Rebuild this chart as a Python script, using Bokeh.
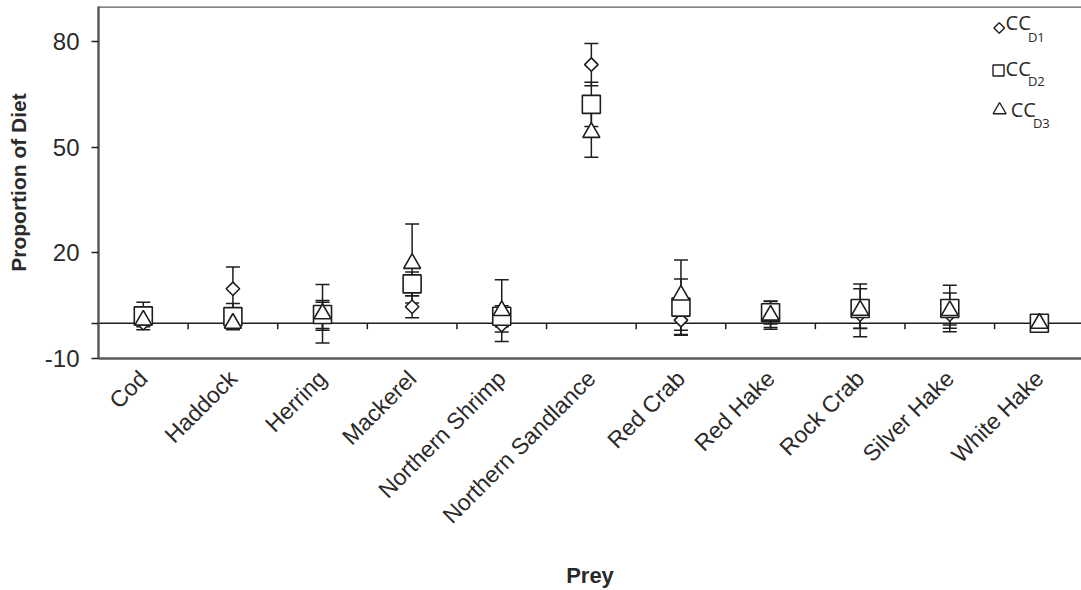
from math import pi

from bokeh.plotting import figure
from bokeh.models import (Range1d, FixedTicker, Whisker, TeeHead,
                          ColumnDataSource, Span)
from bokeh.core.properties import value
from bokeh.embed import file_html
from bokeh.resources import INLINE

# Prey categories and diet proportions (%) with error estimates per diet class
prey = ["Cod", "Haddock", "Herring", "Mackerel", "Northern Shrimp",
        "Northern Sandlance", "Red Crab", "Red Hake", "Rock Crab",
        "Silver Hake", "White Hake"]
cc_d1 = [0.0, 9.8, 2.0, 4.7, -0.5, 73.5, 0.9, 2.0, 2.5, 2.5, 0.0]
cc_d1_err = [1.0, 6.2, 4.0, 3.1, 2.0, 6.0, 4.1, 3.2, 4.0, 3.0, 0.0]
cc_d2 = [2.1, 1.9, 2.5, 11.2, 2.0, 62.2, 4.6, 3.0, 4.2, 4.2, 0.0]
cc_d2_err = [3.9, 3.7, 4.0, 3.4, 3.0, 6.3, 8.0, 3.2, 5.6, 6.6, 0.0]
cc_d3 = [0.9, 0.0, 2.7, 17.0, 3.6, 54.2, 8.0, 2.3, 3.7, 3.6, 0.0]
cc_d3_err = [1.2, 0.5, 8.3, 11.2, 8.8, 7.0, 10.0, 4.0, 7.5, 5.0, 0.0]
y_ticks = [-10, 0, 20, 50, 80]
y_tick_labels = {-10: "-10", 0: "", 20: "20", 50: "50", 80: "80"}

INK = "#1e1e1e"
FRAME = "#5a5a5a"
FONT = "Liberation Sans"

xs = list(range(1, len(prey) + 1))

p = figure(width=1081, height=590,
           x_range=Range1d(0.5, 11.47), y_range=Range1d(-10, 90),
           output_backend="svg", toolbar_location=None,
           min_border_left=98, min_border_right=0,
           min_border_top=6, min_border_bottom=230)
p.grid.visible = False
p.outline_line_color = None
p.background_fill_color = "white"
p.border_fill_color = "white"

# x axis: prey names along the bottom frame
xa = p.xaxis[0]
xa.ticker = FixedTicker(ticks=xs)
xa.major_label_overrides = {x: name for x, name in zip(xs, prey)}
xa.major_label_orientation = pi / 4
xa.major_label_text_font = FONT
xa.major_label_text_font_size = "23px"
xa.major_label_text_color = "#2a2a2a"
xa.major_label_standoff = 10
xa.major_tick_line_color = None
xa.minor_tick_line_color = None
xa.axis_line_color = FRAME
xa.axis_line_width = 2.5
xa.axis_label = "Prey"
xa.axis_label_text_font = FONT
xa.axis_label_text_font_style = "bold"
xa.axis_label_text_font_size = "22px"
xa.axis_label_text_color = "#2a2a2a"
xa.axis_label_standoff = 22

# y axis
ya = p.yaxis[0]
ya.ticker = FixedTicker(ticks=y_ticks)
ya.major_label_overrides = y_tick_labels
ya.major_label_text_font = FONT
ya.major_label_text_font_size = "24px"
ya.major_label_text_color = "#2a2a2a"
ya.major_label_standoff = 12
ya.major_tick_out = 7
ya.major_tick_in = 0
ya.major_tick_line_color = INK
ya.major_tick_line_width = 1.5
ya.minor_tick_line_color = None
ya.axis_line_color = FRAME
ya.axis_line_width = 2.5
ya.axis_label = "Proportion of Diet"
ya.axis_label_text_font = FONT
ya.axis_label_text_font_style = "bold"
ya.axis_label_text_font_size = "21px"
ya.axis_label_text_color = "#2a2a2a"
ya.axis_label_standoff = 12

# top edge of the frame
p.add_layout(Span(location=90, dimension="width", line_color=FRAME,
                  line_width=2.5, level="underlay"))

# zero reference line with small ticks between categories
p.add_layout(Span(location=0, dimension="width", line_color=INK,
                  line_width=1.5, level="underlay"))
bounds = [x + 0.5 for x in xs[:-1]]
p.segment(x0=bounds, y0=[0] * len(bounds), x1=bounds,
          y1=[-1.7] * len(bounds), line_color=INK, line_width=1.5)

series = [
    (cc_d1, cc_d1_err, dict(marker="square", angle=pi / 4, size=9.5)),
    (cc_d2, cc_d2_err, dict(marker="square", size=18)),
    (cc_d3, cc_d3_err, dict(marker="triangle", size=17)),
]

# error bars first, so markers sit on top
for vals, errs, _ in series:
    src = ColumnDataSource(dict(
        x=xs, upper=[v + e for v, e in zip(vals, errs)],
        lower=[v - e for v, e in zip(vals, errs)]))
    p.add_layout(Whisker(
        source=src, base="x", upper="upper", lower="lower",
        line_color=INK, line_width=1.5, level="underlay",
        upper_head=TeeHead(size=14, line_color=INK, line_width=1.5),
        lower_head=TeeHead(size=14, line_color=INK, line_width=1.5)))

for vals, errs, style in series:
    p.scatter(x=xs, y=vals, fill_color="white", line_color=INK,
              line_width=1.6, **style)

# legend: marker, "CC" and a subscripted diet label
leg_marker_x = [10.552, 10.544, 10.556]
leg_marker_y = [83.9, 71.8, 60.6]
leg_cc_x = [10.623, 10.623, 10.68]
leg_cc_y = [85.5, 72.4, 60.6]
leg_sub_x = [10.872, 10.872, 10.928]
leg_sub_y = [81.3, 68.7, 56.9]
leg_subs = ["D1", "D2", "D3"]
leg_styles = [dict(marker="square", angle=pi / 4, size=7.5),
              dict(marker="square", size=11),
              dict(marker="triangle", size=13)]

for mx, my, st in zip(leg_marker_x, leg_marker_y, leg_styles):
    p.scatter(x=[mx], y=[my], fill_color="white", line_color=INK,
              line_width=1.4, **st)
p.text(x=leg_cc_x, y=leg_cc_y, text=["CC"] * 3,
       text_font=value("Open Sans"), text_font_size="20px",
       text_color="#2a2a2a", text_align="left", text_baseline="middle")
p.text(x=leg_sub_x, y=leg_sub_y, text=leg_subs,
       text_font=value("Open Sans"), text_font_size="13px",
       text_color="#2a2a2a", text_align="left", text_baseline="middle")

open("out.html", "w").write(file_html(p, INLINE))
